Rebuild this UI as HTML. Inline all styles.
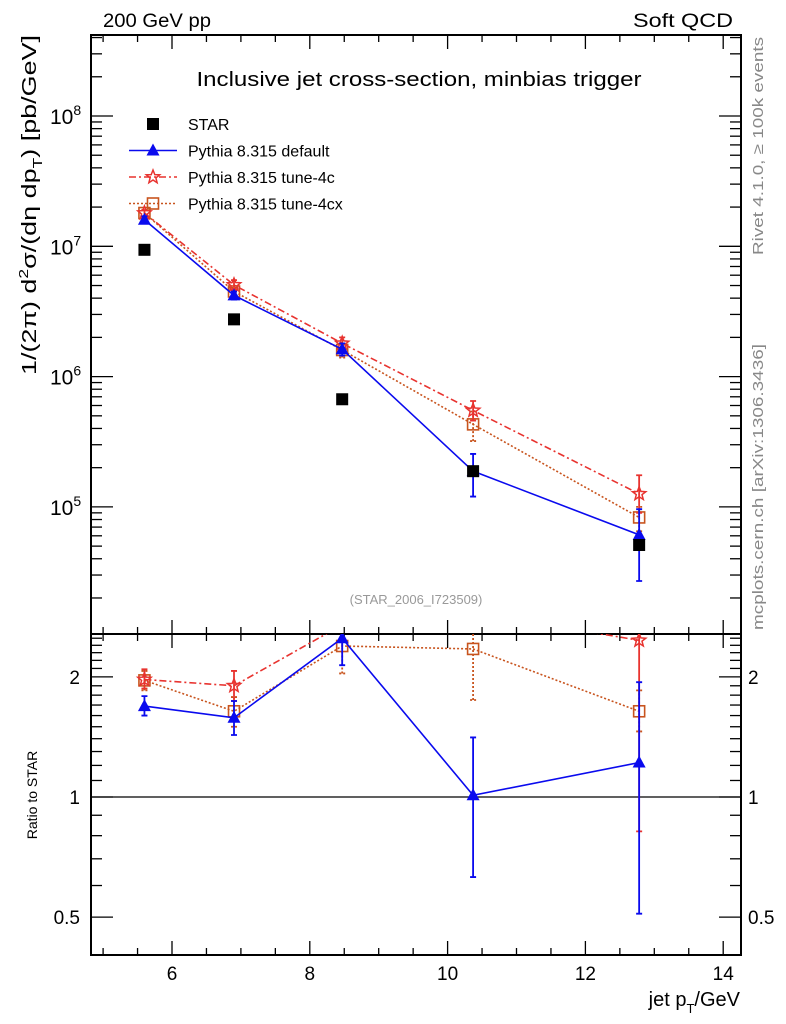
<!DOCTYPE html>
<html><head><meta charset="utf-8"><style>
html,body{margin:0;padding:0;background:#fff;}
svg{display:block;font-family:"Liberation Sans",sans-serif;}
</style></head><body>
<svg id="chart" width="786" height="1024" viewBox="0 0 786 1024" xmlns="http://www.w3.org/2000/svg">
<text x="103" y="27" font-size="19" textLength="108" lengthAdjust="spacingAndGlyphs">200 GeV pp</text>
<text x="733" y="27" font-size="19" text-anchor="end" textLength="100" lengthAdjust="spacingAndGlyphs">Soft QCD</text>
<text x="419" y="86" font-size="20" text-anchor="middle" textLength="445" lengthAdjust="spacingAndGlyphs">Inclusive jet cross-section, minbias trigger</text>
<text x="416" y="604" font-size="13" fill="#999" text-anchor="middle">(STAR_2006_I723509)</text>
<text transform="translate(763,255) rotate(-90)" font-size="15" fill="#888" textLength="218" lengthAdjust="spacingAndGlyphs">Rivet 4.1.0, ≥ 100k events</text>
<text transform="translate(763,630) rotate(-90)" font-size="15" fill="#888" textLength="286" lengthAdjust="spacingAndGlyphs">mcplots.cern.ch [arXiv:1306.3436]</text>
<text transform="translate(36,375) rotate(-90)" font-size="20" textLength="340" lengthAdjust="spacingAndGlyphs">1/(2π)    d<tspan font-size="13" dy="-8">2</tspan><tspan dy="8">σ/(dη dp</tspan><tspan font-size="13" dy="6">T</tspan><tspan dy="-6">) [pb/GeV]</tspan></text>
<text transform="translate(37,795) rotate(-90)" font-size="14" text-anchor="middle">Ratio to STAR</text>
<text x="740" y="1006" font-size="20" text-anchor="end">jet p<tspan font-size="13" dy="7">T</tspan><tspan dy="-7">/GeV</tspan></text>
<g id="g"></g>
</svg>
<script>
const xs = [5.6, 6.9, 8.47, 10.37, 12.78];
const starVals = [9.4e6, 2.75e6, 6.7e5, 1.88e5, 5.1e4];
const defVals = [1.6e7, 4.2e6, 1.62e6, 1.88e5, 6.1e4];
const defLo = [1.5e7, 3.9e6, 1.45e6, 1.2e5, 2.7e4];
const defHi = [1.7e7, 4.5e6, 1.8e6, 2.55e5, 9.6e4];
const c4Vals = [1.8e7, 5.05e6, 1.8e6, 5.5e5, 1.26e5];
const c4Lo = [1.7e7, 4.6e6, 1.6e6, 4.6e5, 9e4];
const c4Hi = [1.9e7, 5.5e6, 2.0e6, 6.5e5, 1.75e5];
const cxVals = [1.8e7, 4.5e6, 1.6e6, 4.3e5, 8.3e4];
const cxLo = [1.7e7, 4.2e6, 1.4e6, 3.2e5, 6.5e4];
const cxHi = [1.9e7, 4.8e6, 1.8e6, 5.4e5, 1.0e5];
const defRatio = [1.69, 1.58, 2.5, 1.01, 1.22];
const defRLo = [1.6, 1.43, 2.14, 0.63, 0.51];
const defRHi = [1.79, 1.74, 2.7, 1.41, 1.94];
const c4Ratio = [1.97, 1.9, 2.7, 2.9, 2.47];
const c4RLo = [1.87, 1.74, 2.5, 2.6, 0.82];
const c4RHi = [2.09, 2.07, 2.9, 3.2, 3.0];
const cxRatio = [1.96, 1.64, 2.39, 2.35, 1.64];
const cxRLo = [1.85, 1.5, 2.04, 1.75, 1.46];
const cxRHi = [2.07, 1.78, 2.7, 2.9, 1.85];
const xTicks = [6, 8, 10, 12, 14];
const yTicks = [5, 6, 7, 8];
const rTicks = [0.5, 1, 2];

const L=91, R=741, T=35, B=634, RT=634, RB=955;
const X = v => 172 + 68.9*(v-6);
const Y = v => 116 + 130.3*(8-Math.log10(v));
const YR = v => 797 - 399*Math.log10(v);
const NS='http://www.w3.org/2000/svg';
const g=document.getElementById('g');
function el(tag,attrs){const e=document.createElementNS(NS,tag);for(const k in attrs)e.setAttribute(k,attrs[k]);g.appendChild(e);return e;}

let f1=el('rect',{x:L,y:T,width:R-L,height:B-T,fill:'none',stroke:'#000','stroke-width':2});


let f2=el('rect',{x:L,y:RT,width:R-L,height:RB-RT,fill:'none',stroke:'#000','stroke-width':2});



for(let v=5;v<=14.01;v+=0.5){
  const major=Math.abs(v-Math.round(v/2)*2)<1e-6;
  const len=major?14:7;const x=X(v);
  for(const [y0,dir] of [[T,1],[B,-1],[RT,1],[RB,-1]]){
    const t=el('line',{x1:x,x2:x,y1:y0,y2:y0+dir*len,stroke:'#000','stroke-width':1.3});
    
    
  }
}
xTicks.forEach(v=>{const t=el('text',{x:X(v),y:980,'font-size':19,'text-anchor':'middle'});t.textContent=v;
  
  });

for(let d=4;d<=8;d++){for(let m=1;m<=9;m++){const v=m*Math.pow(10,d);const y=Y(v);if(y<T||y>B)continue;
  const len=m==1?22:11;
  for(const [x0,dir] of [[L,1],[R,-1]]){const t=el('line',{x1:x0,x2:x0+dir*len,y1:y,y2:y,stroke:'#000','stroke-width':1.3});
    
    }}}
yTicks.forEach(d=>{const t=el('text',{x:50,y:Y(Math.pow(10,d))+8,'font-size':21});t.innerHTML='10<tspan font-size="14" dy="-9">'+d+'</tspan>';
  
  });

[0.4,0.5,0.6,0.7,0.8,0.9,1,1.1,1.2,1.3,1.4,1.5,1.6,1.7,1.8,1.9,2,2.1,2.2,2.3,2.4,2.5].forEach(v=>{const y=YR(v);if(y<RT||y>RB)return;
  const len=(v==0.5||v==1||v==2)?22:11;
  for(const [x0,dir] of [[L,1],[R,-1]]){const t=el('line',{x1:x0,x2:x0+dir*len,y1:y,y2:y,stroke:'#000','stroke-width':1.3});
    
    }});
rTicks.forEach(v=>{for(const [x,a] of [[80,'end'],[748,'start']]){const t=el('text',{x:x,y:YR(v)+7,'font-size':19,'text-anchor':a});t.textContent=v;
  
  }});
let ref=el('line',{x1:L,x2:R,y1:YR(1),y2:YR(1),stroke:'#000','stroke-width':1.3});



const defs=el('defs',{});
defs.innerHTML='<clipPath id="cm"><rect x="'+L+'" y="'+T+'" width="'+(R-L)+'" height="'+(B-T)+'"/></clipPath><clipPath id="cr"><rect x="'+L+'" y="'+RT+'" width="'+(R-L)+'" height="'+(RB-RT)+'"/></clipPath>';

function marker(parent,type,x,y,color){let m;
  if(type=='sq'){m=document.createElementNS(NS,'rect');m.setAttribute('x',x-6);m.setAttribute('y',y-6);m.setAttribute('width',12);m.setAttribute('height',12);m.setAttribute('fill','#000');}
  else if(type=='tri'){m=document.createElementNS(NS,'polygon');m.setAttribute('points',`${x},${y-7} ${x-6.5},${y+5} ${x+6.5},${y+5}`);m.setAttribute('fill',color);}
  else if(type=='star'){let p=[];for(let i=0;i<10;i++){const r=i%2?3:7;const a=-Math.PI/2+i*Math.PI/5;p.push((x+r*Math.cos(a)).toFixed(1)+','+(y+r*Math.sin(a)).toFixed(1));}
    m=document.createElementNS(NS,'polygon');m.setAttribute('points',p.join(' '));m.setAttribute('fill','none');m.setAttribute('stroke',color);m.setAttribute('stroke-width',1.5);}
  else {m=document.createElementNS(NS,'rect');m.setAttribute('x',x-5.5);m.setAttribute('y',y-5.5);m.setAttribute('width',11);m.setAttribute('height',11);m.setAttribute('fill','none');m.setAttribute('stroke',color);m.setAttribute('stroke-width',1.6);}
  parent.appendChild(m);return m;}

function series(name,vals,lo,hi,yf,clip,color,dash,type,line){
  const grp=el('g',{'clip-path':'url(#'+clip+')'});
  
  
  if(line){const pl=document.createElementNS(NS,'polyline');
    pl.setAttribute('points',xs.map((x,i)=>X(x)+','+yf(vals[i])).join(' '));
    pl.setAttribute('fill','none');pl.setAttribute('stroke',color);pl.setAttribute('stroke-width',1.6);if(dash)pl.setAttribute('stroke-dasharray',dash);
    grp.appendChild(pl);}
  xs.forEach((x,i)=>{
    if(lo){const e=document.createElementNS(NS,'path');const xx=X(x);
      e.setAttribute('d',`M${xx},${yf(lo[i])}V${yf(hi[i])}M${xx-3},${yf(lo[i])}h6M${xx-3},${yf(hi[i])}h6`);
      e.setAttribute('stroke',color);e.setAttribute('stroke-width',1.8);if(dash=='2,2')e.setAttribute('stroke-dasharray','2,2');
      
      
      grp.appendChild(e);}
    const m=marker(grp,type,X(x),yf(vals[i]),color);
    
    
  });
}
series('tune-4cx-series',cxVals,cxLo,cxHi,Y,'cm','#c8541e','2,2','open',true);
series('tune-4c-series',c4Vals,c4Lo,c4Hi,Y,'cm','#e8332f','7,3,2,3','star',true);
series('default-series',defVals,defLo,defHi,Y,'cm','#0a0aee',null,'tri',true);
series('star-data-series',starVals,null,null,Y,'cm','#000',null,'sq',false);
series('tune-4cx-ratio',cxRatio,cxRLo,cxRHi,YR,'cr','#c8541e','2,2','open',true);
series('tune-4c-ratio',c4Ratio,c4RLo,c4RHi,YR,'cr','#e8332f','7,3,2,3','star',true);
series('default-ratio',defRatio,defRLo,defRHi,YR,'cr','#0a0aee',null,'tri',true);

const leg=[['STAR','#000',null,'sq',false],['Pythia 8.315 default','#0a0aee',null,'tri',true],['Pythia 8.315 tune-4c','#e8332f','7,3,2,3','star',true],['Pythia 8.315 tune-4cx','#c8541e','2,2','open',true]];
leg.forEach((e,i)=>{const y=124+i*26.5;const lg=el('g',{});
  
  
  if(e[4]){const l=document.createElementNS(NS,'line');l.setAttribute('x1',129);l.setAttribute('x2',177);l.setAttribute('y1',y);l.setAttribute('y2',y);l.setAttribute('stroke',e[1]);l.setAttribute('stroke-width',1.5);if(e[2])l.setAttribute('stroke-dasharray',e[2]);lg.appendChild(l);}
  marker(lg,e[3],153,y,e[1]);
  const t=document.createElementNS(NS,'text');t.setAttribute('x',188);t.setAttribute('y',y+6);t.setAttribute('font-size',16);t.textContent=e[0];lg.appendChild(t);
});
</script>
</body></html>
